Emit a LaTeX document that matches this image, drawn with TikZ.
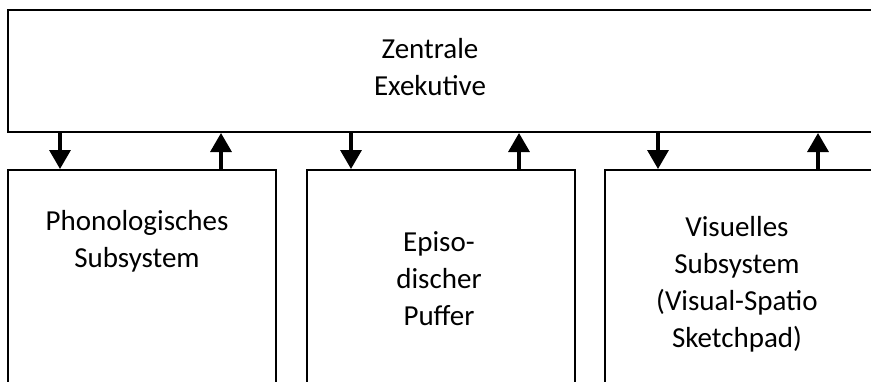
\documentclass[tikz,border=0pt]{standalone}
\usepackage{fontspec}
\setmainfont{Carlito}
\usetikzlibrary{arrows.meta}
\begin{document}
\begin{tikzpicture}[x=1pt,y=-1pt,
  box/.style={draw=black,line width=2pt,fill=white,inner sep=0pt,anchor=north west},
  lbl/.style={align=center,inner sep=0pt,anchor=base,font=\fontsize{29}{37}\selectfont},
  arr/.style={line width=3.4pt,-{Triangle[length=19pt,width=21pt]}}]
\useasboundingbox (0,0) rectangle (871,381);
\clip (0,0) rectangle (871,381);
\fill[white] (0,0) rectangle (871,381);
% boxes
\node[box,minimum width=900pt,minimum height=122pt] (ze) at (7,9) {};
\node[box,minimum width=268pt,minimum height=260pt] (ps) at (7,169) {};
\node[box,minimum width=268pt,minimum height=260pt] (ep) at (306,169) {};
\node[box,minimum width=300pt,minimum height=260pt] (vs) at (604,169) {};
% texts
\node[lbl] (tze) at (430,95) {Zentrale\\Exekutive};
\node[lbl] (tps) at (137,267) {Phonologisches\\Subsystem};
\node[lbl] (tep) at (439,325) {Episo-\\discher\\Puffer};
\node[lbl] (tvs) at (737,347) {Visuelles\\Subsystem\\(Visual-Spatio\\Sketchpad)};
% arrows
\draw[arr] ([xshift=53pt]ps.north west |- ze.south) -- ([xshift=53pt]ps.north west);
\draw[arr] ([xshift=214pt]ps.north west) -- ([xshift=214pt]ps.north west |- ze.south);
\draw[arr] ([xshift=45pt]ep.north west |- ze.south) -- ([xshift=45pt]ep.north west);
\draw[arr] ([xshift=213pt]ep.north west) -- ([xshift=213pt]ep.north west |- ze.south);
\draw[arr] ([xshift=54pt]vs.north west |- ze.south) -- ([xshift=54pt]vs.north west);
\draw[arr] ([xshift=214pt]vs.north west) -- ([xshift=214pt]vs.north west |- ze.south);
\end{tikzpicture}
\end{document}
